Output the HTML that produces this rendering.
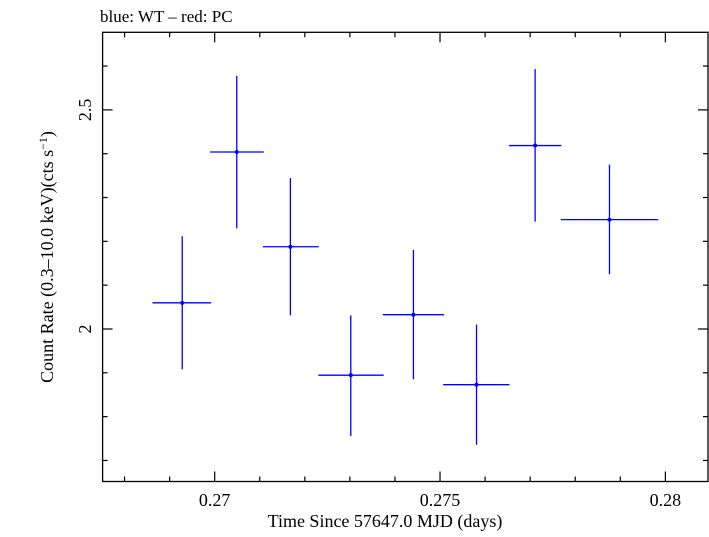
<!DOCTYPE html>
<html><head><meta charset="utf-8"><style>
body{margin:0;background:#fff}
svg text{font-family:"Liberation Serif",serif;fill:#000}
</style></head><body>
<svg id="c" width="709" height="532" xmlns="http://www.w3.org/2000/svg">
<text x="100" y="22" font-size="17">blue: WT – red: PC</text>
<rect x="102.6" y="32.3" width="605.4" height="449.2" fill="none" stroke="#000" stroke-width="1.3"/>
<g id="ticks"></g>
<g id="marks"></g>
<text x="385" y="527" font-size="18" text-anchor="middle">Time Since 57647.0 MJD (days)</text>
<text transform="translate(53,257) rotate(-90)" font-size="18" text-anchor="middle">Count Rate (0.3–10.0 keV)(cts s<tspan dy="-6" font-size="12">−1</tspan><tspan dy="6">)</tspan></text>
</svg>
<script>
const timeCenters=[0.26928,0.27049,0.27168,0.27302,0.27441,0.27581,0.27711,0.27876];
const timeLow=[0.26862,0.26990,0.27107,0.27230,0.27373,0.27507,0.27653,0.27768];
const timeHigh=[0.26992,0.27109,0.27231,0.27375,0.27509,0.27654,0.27769,0.27984];
const rates=[2.0597,2.4039,2.1876,1.8946,2.0326,1.8729,2.4186,2.2496];
const rateLow=[1.9078,2.2295,2.0310,1.7558,1.8853,1.7357,2.2450,2.1248];
const rateHigh=[2.2116,2.5775,2.3442,2.0310,2.1806,2.0101,2.5930,2.3752];
const xTickValues=[0.27,0.275,0.28];
const xTickLabels=["0.27","0.275","0.28"];
const yTickValues=[2,2.5];
const yTickLabels=["2","2.5"];
const L=102.6,R=708,T=32.3,B=481.5;
const xMin=0.267513,xMax=0.280946,yMin=1.652,yMax=2.677;
const sx=v=>L+(v-xMin)/(xMax-xMin)*(R-L);
const sy=v=>B-(v-yMin)/(yMax-yMin)*(B-T);
const NS="http://www.w3.org/2000/svg";
function mk(tag,attrs,parent){const e=document.createElementNS(NS,tag);for(const k in attrs)e.setAttribute(k,attrs[k]);parent.appendChild(e);return e;}
const tg=document.getElementById('ticks');
for(let i=0;i<=14;i++){const v=0.267+i*0.001;if(v<xMin-1e-9||v>xMax)continue;const x=sx(v);
 const major=xTickValues.some(t=>Math.abs(t-v)<1e-7);const len=major?10:5;
 const a=mk('line',{x1:x,x2:x,y1:B,y2:B-len,stroke:'#000','stroke-width':1.2},tg);
 
 
 const b=mk('line',{x1:x,x2:x,y1:T,y2:T+len,stroke:'#000','stroke-width':1.2},tg);
 
 }
for(let i=0;i<=12;i++){const v=1.6+i*0.1;if(v<yMin||v>yMax)continue;const y=sy(v);
 const major=yTickValues.some(t=>Math.abs(t-v)<1e-7);const len=major?10:5;
 const a=mk('line',{x1:L,x2:L+len,y1:y,y2:y,stroke:'#000','stroke-width':1.2},tg);
 
 
 const b=mk('line',{x1:R,x2:R-len,y1:y,y2:y,stroke:'#000','stroke-width':1.2},tg);
 
 }
xTickValues.forEach((v,i)=>{const t=mk('text',{x:sx(v),y:506,'font-size':18,'text-anchor':'middle'},tg);t.textContent=xTickLabels[i];
 
 });
yTickValues.forEach((v,i)=>{const t=mk('text',{transform:`translate(91,${sy(v)}) rotate(-90)`,'font-size':18,'text-anchor':'middle'},tg);t.textContent=yTickLabels[i];
 
 });
const mg=document.getElementById('marks');
rates.forEach((r,i)=>{const g=mk('g',{},mg);
 
 
 mk('line',{x1:sx(timeLow[i]),x2:sx(timeHigh[i]),y1:sy(r),y2:sy(r),stroke:'#0000ff','stroke-width':1.3},g);
 mk('line',{x1:sx(timeCenters[i]),x2:sx(timeCenters[i]),y1:sy(rateLow[i]),y2:sy(rateHigh[i]),stroke:'#0000ff','stroke-width':1.3},g);
 mk('circle',{cx:sx(timeCenters[i]),cy:sy(r),r:2,fill:'#0000ff'},g);});
</script>
</body></html>
